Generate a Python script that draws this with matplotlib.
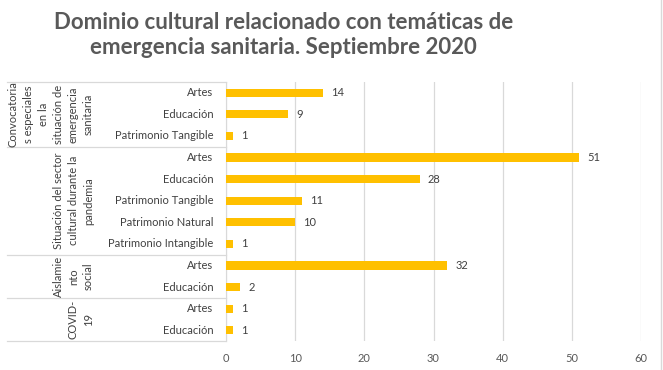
import matplotlib.pyplot as plt
from matplotlib.lines import Line2D

# data
groups = [
    "Convocatoria\ns especiales\nen la\nsituación de\nemergencia\nsanitaria",
    "Situación del sector\ncultural durante la\npandemia",
    "Aislamie\nnto\nsocial",
    "COVID-\n19",
]
items = [
    ["Artes", "Educación", "Patrimonio Tangible"],
    ["Artes", "Educación", "Patrimonio Tangible", "Patrimonio Natural", "Patrimonio Intangible"],
    ["Artes", "Educación"],
    ["Artes", "Educación"],
]
values = [
    [14, 9, 1],
    [51, 28, 11, 10, 1],
    [32, 2],
    [1, 1],
]

W, H = 663, 370
fig = plt.figure(figsize=(W / 100, H / 100), dpi=100)
plt.rcParams['font.family'] = ['Lato', 'DejaVu Sans']

x0, x1 = 226, 641
y_top, y_bot = 82, 341
ax = fig.add_axes([x0 / W, 1 - y_bot / H, (x1 - x0) / W, (y_bot - y_top) / H])

labels = [l for g in items for l in g]
vals = [v for g in values for v in g]
n = len(vals)
ys = list(range(n))

ax.barh(ys, vals, height=0.38, color='#FFC000', zorder=3)
for y, v in zip(ys, vals):
    ax.text(v + 1.2, y, str(v), va='center', ha='left', fontsize=8, color='#404040')

ax.set_ylim(n - 0.5, -0.5)
ax.set_xlim(0, 60)
ax.set_xticks(range(0, 61, 10))
ax.tick_params(axis='x', length=0, labelsize=8, labelcolor='#595959', pad=9)
ax.set_yticks([])
ax.grid(axis='x', color='#D9D9D9', linewidth=0.9, zorder=0)
for s in ['top', 'right', 'bottom']:
    ax.spines[s].set_visible(False)
ax.spines['left'].set_color('#D9D9D9')

# item labels
for y, lab in zip(ys, labels):
    ax.annotate(lab, xy=(0, y), xycoords=('axes fraction', 'data'),
                xytext=(-9, 0), textcoords='offset points',
                ha='right', va='center', fontsize=8, color='#404040')

# group labels and separators
trans = ax.get_yaxis_transform()
start = 0
bounds = [-0.5]
for g, it in zip(groups, items):
    end = start + len(it)
    mid = (start + end - 1) / 2
    ax.annotate(g, xy=(0, mid), xycoords=('axes fraction', 'data'),
                xytext=(-(x0 - 94) * 0.72, 0), textcoords='offset points',
                ha='right', va='center', rotation=90, multialignment='center',
                fontsize=8, color='#404040', linespacing=1.45)
    bounds.append(end - 0.5)
    start = end
left_frac = (7 - x0) / (x1 - x0)
for b in bounds:
    ax.add_line(Line2D([left_frac, 0], [b, b], transform=trans, color='#D9D9D9',
                       linewidth=0.9, clip_on=False))

fig.add_artist(Line2D([661 / W, 661 / W], [0, 1], color='#D9D9D9', linewidth=1))

fig.text(0.428, 0.905, "Dominio cultural relacionado con temáticas de\nemergencia sanitaria. Septiembre 2020",
         ha='center', va='center', fontsize=16, fontweight='bold', color='#595959',
         linespacing=1.2)

fig.savefig('out.png', dpi=100, facecolor='white')
